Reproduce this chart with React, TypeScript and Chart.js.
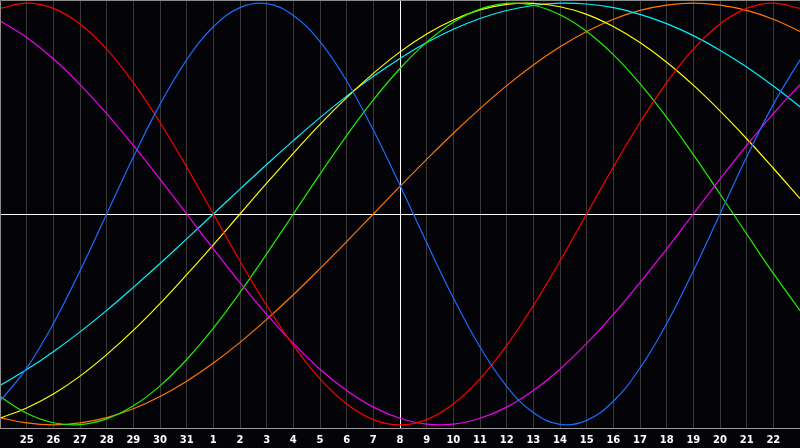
import { useEffect, useRef } from "react";
import { Chart, registerables } from "chart.js";

Chart.register(...registerables);

// Day labels (first and last slot are unlabeled edges)
const dayLabels = [
  "", "25", "26", "27", "28", "29", "30", "31",
  "1", "2", "3", "4", "5", "6", "7", "8", "9", "10", "11", "12",
  "13", "14", "15", "16", "17", "18", "19", "20", "21", "22", "",
];

// Series values (range -1 .. 1)
const blueSeries = [
  -0.888, -0.731, -0.52, -0.27, 0, 0.27, 0.52, 0.731, 0.888, 0.979, 0.998,
  0.942, 0.817, 0.631, 0.398, 0.136, -0.136, -0.398, -0.631, -0.817, -0.942,
  -0.998, -0.979, -0.888, -0.731, -0.52, -0.27, 0, 0.27, 0.52, 0.731,
];
const redSeries = [
  0.975, 1, 0.975, 0.901, 0.782, 0.623, 0.434, 0.223, 0, -0.223, -0.434,
  -0.623, -0.782, -0.901, -0.975, -1, -0.975, -0.901, -0.782, -0.623, -0.434,
  -0.223, 0, 0.223, 0.434, 0.623, 0.782, 0.901, 0.975, 1, 0.975,
];
const greenSeries = [
  -0.866, -0.945, -0.99, -0.999, -0.972, -0.91, -0.815, -0.69, -0.541, -0.372,
  -0.189, 0, 0.189, 0.372, 0.541, 0.69, 0.815, 0.91, 0.972, 0.999, 0.99,
  0.945, 0.866, 0.756, 0.618, 0.458, 0.282, 0.095, -0.095, -0.282, -0.458,
];
const magentaSeries = [
  0.916, 0.837, 0.736, 0.614, 0.476, 0.325, 0.165, 0, -0.165, -0.325, -0.476,
  -0.614, -0.736, -0.837, -0.916, -0.969, -0.997, -0.997, -0.969, -0.916,
  -0.837, -0.736, -0.614, -0.476, -0.325, -0.165, 0, 0.165, 0.325, 0.476, 0.614,
];
const yellowSeries = [
  -0.968, -0.92, -0.854, -0.769, -0.667, -0.552, -0.425, -0.288, -0.146, 0,
  0.146, 0.288, 0.425, 0.552, 0.667, 0.769, 0.854, 0.92, 0.968, 0.994, 0.999,
  0.983, 0.947, 0.889, 0.813, 0.72, 0.611, 0.489, 0.357, 0.217, 0.073,
];
const cyanSeries = [
  -0.813, -0.738, -0.653, -0.559, -0.457, -0.348, -0.235, -0.118, 0, 0.118,
  0.235, 0.348, 0.457, 0.559, 0.653, 0.738, 0.813, 0.876, 0.927, 0.965, 0.989,
  1.0, 0.996, 0.979, 0.947, 0.903, 0.846, 0.777, 0.697, 0.607, 0.509,
];
const orangeSeries = [
  -0.966, -0.991, -1, -0.991, -0.966, -0.924, -0.866, -0.793, -0.707, -0.609,
  -0.5, -0.383, -0.259, -0.131, 0, 0.131, 0.259, 0.383, 0.5, 0.609, 0.707,
  0.793, 0.866, 0.924, 0.966, 0.991, 1, 0.991, 0.966, 0.924, 0.866,
];

const markerIndex = 15; // day "8"

export default function App() {
  const ref = useRef<HTMLCanvasElement>(null);

  useEffect(() => {
    document.body.style.margin = "0";
    const canvas = ref.current;
    if (!canvas) return;

    const framePlugin = {
      id: "frame",
      afterDatasetsDraw(chart: any) {
        const { ctx, chartArea } = chart;
        ctx.save();
        ctx.strokeStyle = "#8a8a8a";
        ctx.lineWidth = 1;
        ctx.beginPath();
        ctx.moveTo(chartArea.left + 0.5, chartArea.bottom);
        ctx.lineTo(chartArea.left + 0.5, chartArea.top + 0.5);
        ctx.lineTo(chartArea.right, chartArea.top + 0.5);
        ctx.stroke();
        ctx.restore();
      },
    };

    const mk = (data: number[], color: string) => ({
      data,
      borderColor: color,
      borderWidth: 1.2,
      pointRadius: 0,
      pointHoverRadius: 0,
      pointHitRadius: 0,
      fill: false,
      tension: 0.4,
    });

    const chart = new Chart(canvas, {
      type: "line",
      data: {
        labels: dayLabels,
        datasets: [
          mk(blueSeries, "#1a6cff"),
          mk(redSeries, "#ff0000"),
          mk(magentaSeries, "#f000f0"),
          mk(greenSeries, "#22ee00"),
          mk(yellowSeries, "#ffff00"),
          mk(cyanSeries, "#00f4ff"),
          mk(orangeSeries, "#ff7700"),
        ],
      },
      options: {
        animation: false,
        responsive: false,
        maintainAspectRatio: false,
        layout: { autoPadding: false, padding: 0 },
        plugins: { legend: { display: false }, tooltip: { enabled: false } },
        scales: {
          x: {
            offset: false,
            afterFit: (s: any) => {
              s.height = 20;
              s.paddingLeft = 0;
              s.paddingRight = 0;
            },
            grid: {
              color: (c: any) => (c.index === markerIndex ? "#ffffff" : "#3a3a3a"),
              drawTicks: false,
              lineWidth: 1,
            },
            border: { display: true, color: "#9a9a9a" },
            ticks: {
              color: "#ffffff",
              font: { family: "DejaVu Sans", weight: "bold", size: 10 },
              autoSkip: false,
              maxRotation: 0,
              minRotation: 0,
              padding: 6,
            },
          },
          y: {
            min: -1.015,
            max: 1.015,
            afterFit: (s: any) => {
              s.width = 0;
              s.paddingTop = 0;
              s.paddingBottom = 0;
            },
            grid: {
              color: (c: any) =>
                c.tick && Math.abs(c.tick.value) < 1e-9 ? "#ffffff" : "rgba(0,0,0,0)",
              drawTicks: false,
            },
            border: { display: false },
            ticks: { display: false },
          },
        },
      },
      plugins: [framePlugin],
    });

    return () => chart.destroy();
  }, []);

  return (
    <div
      style={{
        position: "fixed",
        left: 0,
        top: 0,
        width: 800,
        height: 448,
        background: "#040408",
      }}
    >
      <canvas ref={ref} width={800} height={448} style={{ display: "block" }} />
    </div>
  );
}
